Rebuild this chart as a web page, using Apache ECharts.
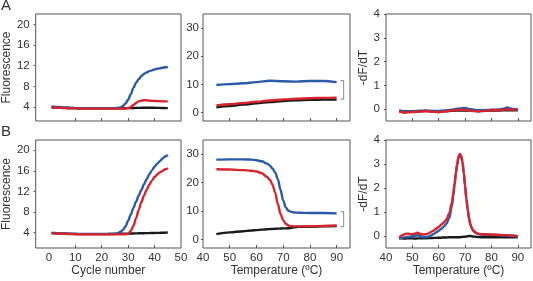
<!DOCTYPE html>
<html><head><meta charset="utf-8">
<script src="https://cdn.jsdelivr.net/npm/echarts@6/dist/echarts.min.js"></script>
<style>html,body{margin:0;padding:0;background:#fff}#c{width:533px;height:281px}</style>
</head><body><div id="c"></div>
<script>
// ---------- data ----------
const cycles = [1,2,3,4,5,6,7,8,9,10,11,12,13,14,15,16,17,18,19,20,21,22,23,24,25,26,27,28,29,30,31,32,33,34,35,36,37,38,39,40,41,42,43,44,45];
// Row A amplification
const ampA_blue  = [4.1,4.05,4.0,4.0,3.95,3.9,3.9,3.85,3.85,3.8,3.8,3.8,3.8,3.8,3.8,3.8,3.8,3.8,3.8,3.8,3.8,3.8,3.8,3.8,3.8,3.82,3.9,4.2,4.7,5.4,6.5,7.7,8.7,9.4,10.0,10.4,10.7,10.95,11.1,11.25,11.4,11.5,11.6,11.7,11.75];
const ampA_red   = [3.95,3.9,3.88,3.85,3.82,3.8,3.78,3.76,3.75,3.74,3.72,3.7,3.7,3.7,3.7,3.7,3.7,3.7,3.7,3.7,3.7,3.7,3.7,3.7,3.7,3.7,3.7,3.7,3.72,3.8,4.0,4.4,4.8,5.1,5.25,5.3,5.3,5.25,5.2,5.2,5.15,5.15,5.1,5.1,5.1];
const ampA_black = [3.95,3.92,3.9,3.88,3.85,3.83,3.82,3.8,3.8,3.8,3.78,3.76,3.75,3.75,3.75,3.75,3.75,3.75,3.75,3.75,3.75,3.75,3.75,3.75,3.76,3.77,3.78,3.78,3.79,3.8,3.8,3.82,3.83,3.84,3.85,3.85,3.85,3.85,3.85,3.85,3.84,3.83,3.82,3.8,3.8];
// Row B amplification
const ampB_blue  = [4.0,3.95,3.9,3.88,3.85,3.82,3.8,3.78,3.76,3.75,3.75,3.75,3.75,3.75,3.75,3.75,3.75,3.75,3.75,3.75,3.75,3.75,3.75,3.75,3.8,3.9,4.1,4.5,5.2,6.3,7.5,8.8,10.0,11.2,12.3,13.4,14.4,15.3,16.1,16.8,17.4,17.9,18.4,18.8,19.1];
const ampB_red   = [3.9,3.85,3.82,3.8,3.78,3.75,3.73,3.72,3.7,3.7,3.68,3.66,3.65,3.65,3.65,3.65,3.65,3.65,3.65,3.65,3.65,3.65,3.65,3.65,3.65,3.65,3.65,3.65,3.66,3.75,4.3,5.3,6.8,8.4,9.9,11.2,12.3,13.3,14.1,14.8,15.3,15.7,16.0,16.3,16.5];
const ampB_black = [3.9,3.88,3.85,3.82,3.8,3.78,3.76,3.75,3.74,3.72,3.7,3.7,3.7,3.7,3.7,3.7,3.7,3.7,3.7,3.7,3.7,3.7,3.72,3.73,3.74,3.75,3.76,3.77,3.78,3.8,3.82,3.83,3.84,3.86,3.87,3.88,3.9,3.9,3.92,3.93,3.94,3.95,3.96,3.98,4.0];

// Row A melt curve
const meltA_T     = [45,50,55,60,65,70,75,80,85,90];
const meltA_blue  = [9.8,10.1,10.4,10.8,11.3,11.1,11.0,11.2,11.2,10.8];
const meltA_red   = [2.55,2.95,3.4,3.85,4.3,4.65,4.9,5.1,5.2,5.3];
const meltA_black = [1.85,2.3,2.8,3.3,3.75,4.1,4.35,4.5,4.6,4.6];
const bracketA    = [[91.5,11.35],[92.6,11.35],[92.6,4.75],[91.5,4.75]];

// Row B melt curve
const meltB_T     = [45,50,55,58,60,62,64,65,66,67,68,69,70,71,72,73,74,76,80,85,90];
const meltB_blue  = [28.1,28.2,28.2,28.1,27.9,27.5,26.7,26.0,25.0,23.6,21.2,17.5,13.7,11.2,10.1,9.7,9.5,9.4,9.3,9.3,9.2];
const meltB_red   = [24.7,24.6,24.4,24.2,23.9,23.3,22.0,21.0,19.3,16.5,12.5,9.0,6.8,5.5,4.9,4.7,4.6,4.6,4.6,4.8,4.9];
const meltB_black = [1.9,2.5,2.9,3.15,3.3,3.45,3.6,3.65,3.7,3.75,3.8,3.85,3.9,3.92,3.95,4.1,4.3,4.45,4.5,4.6,4.7];
const bracketB    = [[91.5,9.8],[92.6,9.8],[92.6,4.5],[91.5,4.5]];

// Row A derivative
const derivA_T     = [45,47,50,53,55,57,60,62,65,68,70,72,75,78,80,83,85,86,87,88,90];
const derivA_blue  = [-0.05,-0.1,-0.09,-0.07,-0.06,-0.07,-0.08,-0.06,-0.02,0.03,0.05,0.0,-0.05,-0.04,-0.03,-0.01,0.03,0.07,0.04,0.01,0.0];
const derivA_red   = [-0.1,-0.15,-0.12,-0.1,-0.08,-0.1,-0.13,-0.1,-0.06,-0.03,-0.03,-0.07,-0.1,-0.07,-0.04,-0.05,-0.02,-0.01,-0.02,-0.02,-0.02];
const derivA_black = [-0.08,-0.1,-0.1,-0.09,-0.08,-0.09,-0.1,-0.09,-0.07,-0.06,-0.06,-0.07,-0.08,-0.07,-0.06,-0.06,-0.05,-0.05,-0.05,-0.05,-0.05];

// Row B derivative
const derivB_T     = [45,46,47,48,49,50,51,52,53,54,55,56,57,58,59,60,61,62,63,64,65,65.5,66,66.5,67,67.5,68,68.5,69,69.5,70,70.5,71,71.5,72,72.5,73,74,75,76,78,80,82,84,86,88,90];
const derivB_blue  = [-0.1,-0.08,-0.06,-0.04,-0.03,-0.01,0.01,0.03,0.0,-0.04,-0.05,-0.03,0.02,0.08,0.15,0.22,0.3,0.4,0.52,0.75,1.25,1.65,2.1,2.6,2.95,3.25,3.38,3.32,3.08,2.62,2.08,1.52,1.08,0.72,0.48,0.32,0.22,0.13,0.08,0.06,0.05,0.05,0.04,0.03,0.02,0.0,-0.02];
const derivB_red   = [-0.07,0.02,0.07,0.1,0.09,0.07,0.1,0.14,0.09,0.06,0.07,0.1,0.16,0.22,0.3,0.38,0.48,0.57,0.7,0.95,1.4,1.75,2.2,2.65,3.0,3.3,3.42,3.35,3.1,2.65,2.1,1.55,1.1,0.75,0.5,0.35,0.25,0.15,0.1,0.08,0.07,0.06,0.05,0.04,0.03,0.02,-0.01];
const derivB_black = [-0.1,-0.1,-0.11,-0.1,-0.1,-0.1,-0.11,-0.1,-0.1,-0.1,-0.1,-0.09,-0.09,-0.08,-0.08,-0.07,-0.07,-0.06,-0.06,-0.05,-0.05,-0.05,-0.05,-0.05,-0.05,-0.05,-0.05,-0.04,-0.04,-0.03,-0.03,-0.02,-0.01,0.0,0.0,-0.01,-0.02,-0.03,-0.04,-0.05,-0.05,-0.05,-0.05,-0.05,-0.05,-0.05,-0.05];

// tick labels
const cycleTicks = [0,10,20,30,40,50];
const tempTicks  = [40,50,60,70,80,90];
const fluorTicks = [4,8,12,16,20];
const meltTicks  = [0,10,20,30];
const derivTicks = [0,1,2,3,4];

// ---------- chart ----------
const BLUE = '#2a5ba8', RED = '#d8242c', BLACK = '#1a1a1a', TXT = '#333';
const FONT = 'Liberation Sans, Arial, sans-serif';

const cols = [{left:35,width:146},{left:203,width:147},{left:386,width:145}];
const rows = [{top:14,height:107},{top:140,height:108}];

const grids = [], xAxes = [], yAxes = [], series = [];
const panels = [
  {r:0,c:0,x:[-5,50],y:[1.3,22],xt:cycleTicks.slice(1,5),xl:cycleTicks,yt:fluorTicks,yname:'Fluorescence',xname:''},
  {r:0,c:1,x:[40,95],y:[-3,35],xt:tempTicks.slice(1),xl:tempTicks,yt:meltTicks,yname:'',xname:''},
  {r:0,c:2,x:[40,95],y:[-0.5,4],xt:tempTicks.slice(1),xl:tempTicks,yt:derivTicks,yname:'-dF/dT',xname:''},
  {r:1,c:0,x:[-5,50],y:[1,22],xt:cycleTicks.slice(1,5),xl:cycleTicks,yt:fluorTicks,yname:'Fluorescence',xname:'Cycle number'},
  {r:1,c:1,x:[40,95],y:[-3,35],xt:tempTicks.slice(1),xl:tempTicks,yt:meltTicks,yname:'',xname:'Temperature (ºC)'},
  {r:1,c:2,x:[40,95],y:[-0.5,4],xt:tempTicks.slice(1),xl:tempTicks,yt:derivTicks,yname:'-dF/dT',xname:'Temperature (ºC)'}
];
panels.forEach((p,i)=>{
  grids.push({left:cols[p.c].left,width:cols[p.c].width,top:rows[p.r].top,height:rows[p.r].height,
    show:true,borderColor:'#555',borderWidth:1,containLabel:false});
  xAxes.push({type:'value',gridIndex:i,min:p.x[0],max:p.x[1],
    axisLine:{show:false,onZero:false},splitLine:{show:false},
    axisTick:{show:true,inside:true,length:3,lineStyle:{color:'#555'},customValues:p.xt},
    axisLabel:{show:p.r===1,customValues:p.xl,fontSize:11.5,color:TXT,fontFamily:FONT,margin:4},
    name:p.xname,nameLocation:'middle',nameGap:17,
    nameTextStyle:{fontSize:12,color:TXT,fontFamily:FONT}});
  yAxes.push({type:'value',gridIndex:i,min:p.y[0],max:p.y[1],
    axisLine:{show:false,onZero:false},splitLine:{show:false},
    axisTick:{show:true,inside:false,length:2,lineStyle:{color:'#555'},customValues:p.yt},
    axisLabel:{customValues:p.yt,fontSize:11.5,color:TXT,fontFamily:FONT,margin:p.c===1?4:6},
    name:p.yname,nameLocation:'middle',nameGap:p.c===0?20:14,
    nameTextStyle:{fontSize:12,color:TXT,fontFamily:FONT}});
});

function line(i,xs,ys,color,w){
  series.push({type:'line',xAxisIndex:i,yAxisIndex:i,data:xs.map((x,k)=>[x,ys[k]]),
    showSymbol:false,symbol:'none',smooth:0.35,smoothMonotone:'x',
    lineStyle:{color:color,width:w||2.4},silent:true,animation:false});
}
function bracket(i,pts){
  series.push({type:'line',xAxisIndex:i,yAxisIndex:i,data:pts,showSymbol:false,symbol:'none',
    lineStyle:{color:'#9a9a9a',width:1.2},silent:true,animation:false});
}
line(0,cycles,ampA_black,BLACK); line(0,cycles,ampA_blue,BLUE); line(0,cycles,ampA_red,RED);
line(1,meltA_T,meltA_black,BLACK); line(1,meltA_T,meltA_blue,BLUE); line(1,meltA_T,meltA_red,RED);
bracket(1,bracketA);
line(2,derivA_T,derivA_black,BLACK); line(2,derivA_T,derivA_blue,BLUE); line(2,derivA_T,derivA_red,RED);
line(3,cycles,ampB_black,BLACK); line(3,cycles,ampB_blue,BLUE); line(3,cycles,ampB_red,RED);
line(4,meltB_T,meltB_black,BLACK); line(4,meltB_T,meltB_blue,BLUE); line(4,meltB_T,meltB_red,RED);
bracket(4,bracketB);
line(5,derivB_T,derivB_black,BLACK); line(5,derivB_T,derivB_blue,BLUE); line(5,derivB_T,derivB_red,RED);

const chart = echarts.init(document.getElementById('c'),null,{renderer:'canvas'});
chart.setOption({
  animation:false,
  grid:grids,xAxis:xAxes,yAxis:yAxes,series:series,
  graphic:[
    {type:'text',left:1,top:-2,style:{text:'A',fontSize:15,fill:TXT,fontFamily:FONT}},
    {type:'text',left:1,top:124,style:{text:'B',fontSize:15,fill:TXT,fontFamily:FONT}}
  ]
});
</script></body></html>
